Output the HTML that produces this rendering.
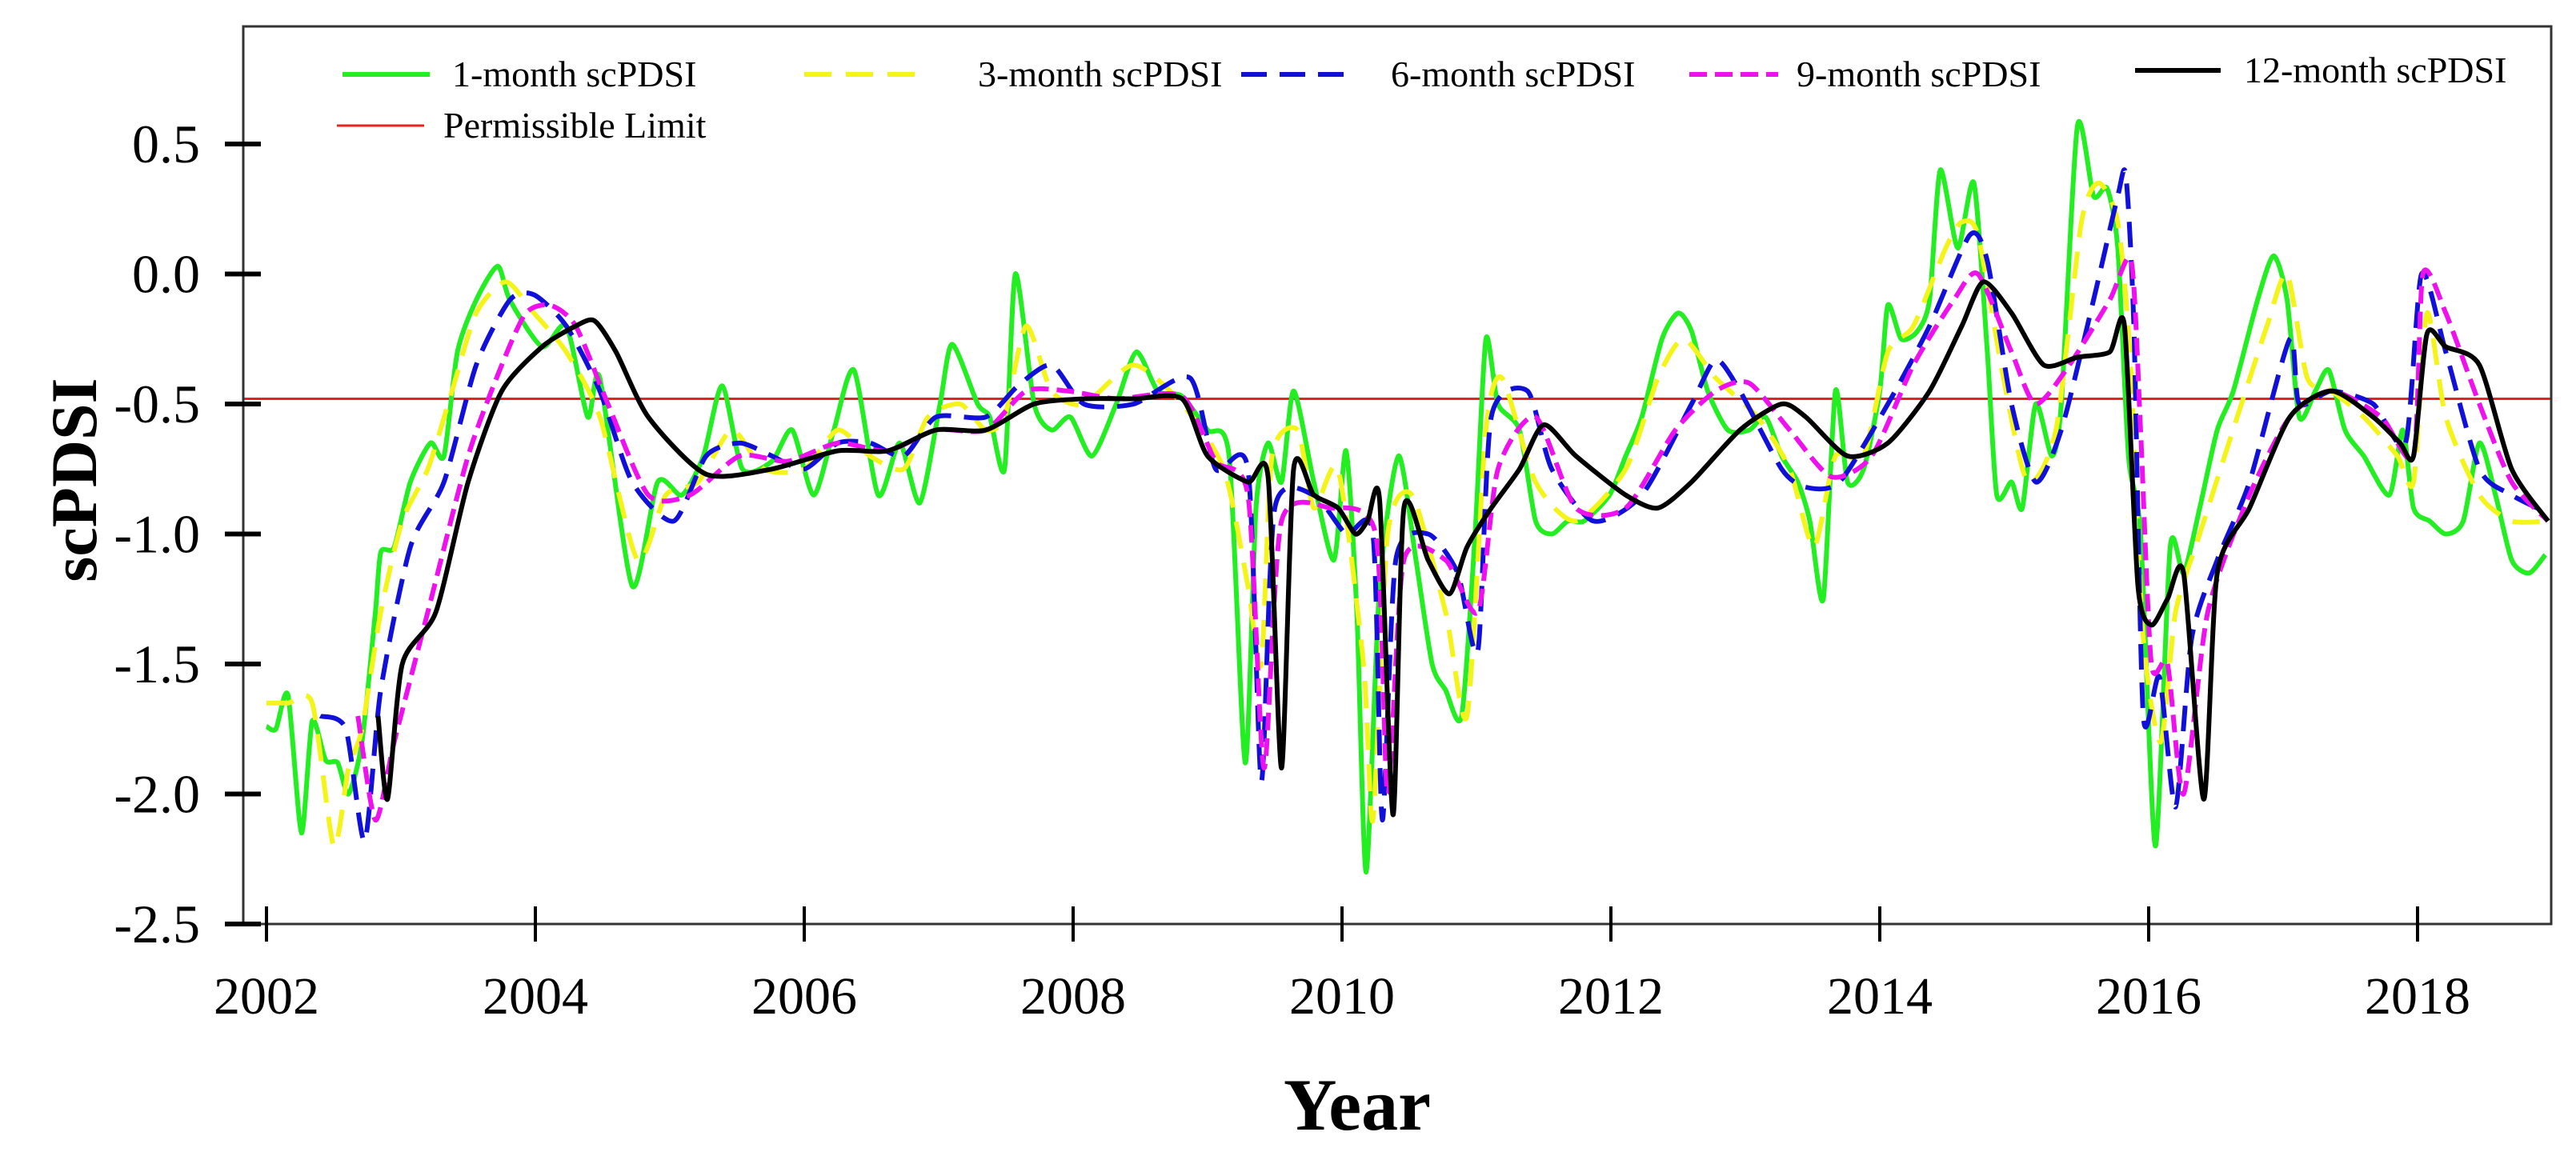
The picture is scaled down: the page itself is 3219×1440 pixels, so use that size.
<!DOCTYPE html>
<html><head><meta charset="utf-8"><title>scPDSI</title>
<style>
html,body{margin:0;padding:0;background:#fff;}
svg{display:block;font-family:"Liberation Serif","Times New Roman",serif;}
</style></head>
<body>
<svg id="chart" width="3219" height="1440" viewBox="0 0 3219 1440" xmlns="http://www.w3.org/2000/svg">
<rect x="0" y="0" width="3219" height="1440" fill="#fff"/>
<g id="series"></g>
<g id="axes"></g>
<g id="legend">
  <line x1="428" y1="93" x2="537" y2="93" stroke="#22ee22" stroke-width="6"/>
  <text x="565" y="108" font-size="46">1-month scPDSI</text>
  <line x1="1005" y1="93" x2="1153" y2="93" stroke="#f4f41a" stroke-width="6" stroke-dasharray="34,18"/>
  <text x="1222" y="108" font-size="46">3-month scPDSI</text>
  <line x1="1551" y1="93" x2="1687" y2="93" stroke="#1010d8" stroke-width="6" stroke-dasharray="32,16"/>
  <text x="1738" y="108" font-size="46">6-month scPDSI</text>
  <line x1="2111" y1="93" x2="2222" y2="93" stroke="#ee11ee" stroke-width="6" stroke-dasharray="22,10"/>
  <text x="2245" y="108" font-size="46">9-month scPDSI</text>
  <line x1="2668" y1="88" x2="2775" y2="88" stroke="#000" stroke-width="6"/>
  <text x="2804" y="103" font-size="46">12-month scPDSI</text>
  <line x1="421" y1="157" x2="530" y2="157" stroke="#e8231e" stroke-width="3"/>
  <text x="554" y="172" font-size="46">Permissible Limit</text>
</g>
<text x="1696" y="1412" font-size="92" font-weight="bold" text-anchor="middle">Year</text>
<text x="0" y="0" font-size="82" font-weight="bold" text-anchor="middle" transform="translate(120,600) rotate(-90)">scPDSI</text>
</svg>
<script>
// time values are years since 2002
const yTicks = [0.5, 0.0, -0.5, -1.0, -1.5, -2.0, -2.5];
const yTickLabels = ["0.5", "0.0", "-0.5", "-1.0", "-1.5", "-2.0", "-2.5"];
const xTicks = [2002, 2004, 2006, 2008, 2010, 2012, 2014, 2016, 2018];
const xTickLabels = ["2002", "2004", "2006", "2008", "2010", "2012", "2014", "2016", "2018"];
const permissibleLimit = -0.48;

const t1 = [0.00,0.07,0.16,0.26,0.34,0.44,0.53,0.61,0.71,0.81,0.85,0.95,1.07,1.22,1.32,1.42,1.56,1.72,1.81,2.05,2.23,2.39,2.48,2.72,2.91,3.09,3.25,3.39,3.54,3.76,3.91,4.07,4.22,4.37,4.55,4.71,4.86,5.01,5.10,5.29,5.38,5.49,5.57,5.71,5.84,5.98,6.14,6.32,6.47,6.63,6.81,7.00,7.16,7.28,7.36,7.45,7.55,7.64,7.79,7.94,8.03,8.11,8.18,8.28,8.42,8.55,8.67,8.77,8.89,8.99,9.07,9.16,9.32,9.44,9.56,9.68,9.80,9.99,10.11,10.23,10.38,10.50,10.60,10.72,10.87,11.03,11.15,11.27,11.39,11.48,11.58,11.67,11.76,11.88,12.00,12.06,12.16,12.28,12.37,12.45,12.58,12.70,12.80,12.87,12.98,13.06,13.16,13.28,13.35,13.47,13.59,13.69,13.77,13.85,13.94,14.05,14.16,14.26,14.38,14.51,14.63,14.81,14.93,15.03,15.12,15.24,15.34,15.46,15.60,15.79,15.89,15.97,16.09,16.21,16.34,16.46,16.58,16.70,16.83,16.95];
const v1 = [-1.74,-1.75,-1.62,-2.15,-1.72,-1.87,-1.88,-2.0,-1.8,-1.3,-1.07,-1.05,-0.8,-0.65,-0.7,-0.3,-0.1,0.03,-0.1,-0.28,-0.2,-0.55,-0.4,-1.2,-0.8,-0.85,-0.7,-0.43,-0.75,-0.72,-0.6,-0.85,-0.6,-0.37,-0.85,-0.65,-0.88,-0.5,-0.27,-0.5,-0.55,-0.75,0.0,-0.5,-0.6,-0.55,-0.7,-0.5,-0.3,-0.45,-0.47,-0.6,-0.7,-1.88,-0.9,-0.65,-0.8,-0.45,-0.8,-1.1,-0.68,-1.3,-2.3,-1.2,-0.7,-1.1,-1.5,-1.6,-1.7,-1.0,-0.25,-0.5,-0.6,-0.95,-1.0,-0.95,-0.95,-0.85,-0.7,-0.55,-0.25,-0.15,-0.22,-0.45,-0.6,-0.6,-0.55,-0.7,-0.8,-0.95,-1.25,-0.45,-0.8,-0.75,-0.45,-0.12,-0.25,-0.22,-0.1,0.4,0.1,0.35,-0.3,-0.85,-0.8,-0.9,-0.5,-0.7,-0.5,0.57,0.3,0.33,0.1,-0.7,-1.0,-2.2,-1.05,-1.15,-0.9,-0.6,-0.45,-0.1,0.07,-0.1,-0.55,-0.45,-0.37,-0.6,-0.7,-0.85,-0.6,-0.9,-0.95,-1.0,-0.95,-0.65,-0.85,-1.1,-1.15,-1.08];

const t3 = [0.00,0.16,0.34,0.50,0.61,0.71,0.85,1.01,1.20,1.38,1.56,1.78,1.99,2.23,2.48,2.76,2.97,3.21,3.46,3.70,4.00,4.25,4.49,4.74,4.92,5.16,5.35,5.49,5.65,5.84,6.08,6.45,6.81,7.12,7.30,7.40,7.48,7.67,7.79,7.97,8.16,8.23,8.34,8.52,8.77,8.93,9.07,9.19,9.44,9.74,10.11,10.35,10.54,10.78,11.09,11.33,11.51,11.67,11.88,12.06,12.25,12.49,12.61,12.73,12.92,13.10,13.31,13.50,13.63,13.77,13.86,13.96,14.09,14.20,14.38,14.69,14.88,15.03,15.18,15.36,15.60,15.85,15.97,16.07,16.21,16.46,16.70,16.95];
const v3 = [-1.65,-1.65,-1.65,-2.2,-1.9,-1.75,-1.3,-0.95,-0.75,-0.45,-0.15,-0.03,-0.15,-0.3,-0.55,-1.1,-0.85,-0.8,-0.6,-0.75,-0.75,-0.6,-0.7,-0.75,-0.55,-0.5,-0.6,-0.55,-0.2,-0.45,-0.5,-0.35,-0.5,-0.75,-1.2,-1.5,-0.7,-0.6,-0.9,-0.75,-1.5,-2.1,-1.0,-0.85,-1.3,-1.7,-0.6,-0.4,-0.8,-0.95,-0.75,-0.4,-0.25,-0.4,-0.55,-0.75,-1.05,-0.7,-0.7,-0.3,-0.2,0.1,0.2,0.15,-0.4,-0.8,-0.6,0.2,0.35,0.2,-0.3,-1.4,-1.8,-1.3,-1.0,-0.5,-0.2,0.0,-0.4,-0.45,-0.55,-0.7,-0.8,-0.15,-0.55,-0.85,-0.95,-0.95];

const t6 = [0.40,0.59,0.73,0.85,1.07,1.32,1.56,1.81,1.99,2.23,2.48,2.72,3.03,3.27,3.52,3.76,4.00,4.25,4.49,4.74,4.98,5.35,5.59,5.84,6.08,6.45,6.87,7.06,7.30,7.40,7.50,7.79,8.03,8.23,8.30,8.40,8.64,8.86,9.01,9.11,9.38,9.56,9.87,10.23,10.60,10.78,10.96,11.27,11.45,11.70,12.06,12.37,12.67,12.80,12.98,13.16,13.35,13.59,13.77,13.83,13.89,13.96,14.08,14.20,14.32,14.51,14.75,15.05,15.12,15.36,15.67,15.91,16.03,16.21,16.46,16.70,16.97];
const v6 = [-1.7,-1.75,-2.18,-1.6,-1.05,-0.8,-0.35,-0.1,-0.08,-0.2,-0.45,-0.8,-0.95,-0.7,-0.65,-0.7,-0.75,-0.65,-0.65,-0.7,-0.55,-0.55,-0.43,-0.35,-0.5,-0.5,-0.4,-0.75,-0.75,-1.95,-0.9,-0.85,-1.0,-1.0,-2.1,-1.1,-1.0,-1.15,-1.45,-0.55,-0.45,-0.75,-0.95,-0.85,-0.5,-0.33,-0.45,-0.75,-0.82,-0.8,-0.5,-0.2,0.15,0.05,-0.5,-0.8,-0.6,-0.1,0.3,0.38,-0.2,-1.7,-1.55,-2.05,-1.4,-1.1,-0.8,-0.25,-0.5,-0.45,-0.5,-0.65,0.0,-0.3,-0.75,-0.85,-0.92];

const t9 = [0.68,0.81,0.95,1.20,1.50,1.75,1.93,2.11,2.30,2.54,2.84,3.15,3.52,3.88,4.25,4.62,4.98,5.35,5.65,5.96,6.32,6.81,7.06,7.30,7.42,7.55,7.91,8.25,8.34,8.46,8.77,9.01,9.16,9.44,9.74,10.11,10.48,10.78,11.03,11.33,11.64,11.94,12.25,12.55,12.73,12.98,13.16,13.41,13.71,13.87,13.94,14.02,14.14,14.26,14.44,14.75,15.05,15.36,15.73,15.97,16.04,16.21,16.46,16.70,16.97];
const v9 = [-1.7,-2.1,-1.8,-1.3,-0.7,-0.35,-0.15,-0.12,-0.2,-0.5,-0.85,-0.85,-0.7,-0.72,-0.65,-0.68,-0.6,-0.6,-0.45,-0.45,-0.48,-0.47,-0.72,-0.85,-1.9,-0.95,-0.9,-1.0,-2.0,-1.1,-1.1,-1.3,-0.75,-0.55,-0.9,-0.9,-0.6,-0.45,-0.42,-0.6,-0.78,-0.7,-0.35,-0.1,0.0,-0.3,-0.5,-0.35,-0.1,0.05,-0.6,-1.5,-1.5,-2.0,-1.3,-0.85,-0.55,-0.45,-0.55,-0.7,0.0,-0.15,-0.5,-0.8,-0.95];

const t12 = [0.83,0.90,1.01,1.26,1.50,1.75,2.05,2.30,2.44,2.60,2.84,3.27,3.76,4.25,4.62,4.98,5.35,5.71,6.08,6.45,6.81,7.00,7.30,7.45,7.55,7.64,7.79,7.97,8.10,8.19,8.28,8.38,8.46,8.64,8.80,8.93,9.11,9.32,9.50,9.74,10.11,10.35,10.60,10.96,11.27,11.45,11.76,12.06,12.37,12.61,12.77,12.98,13.22,13.47,13.71,13.82,13.92,14.02,14.14,14.26,14.41,14.51,14.75,15.05,15.36,15.67,15.87,15.97,16.07,16.21,16.46,16.70,16.97];
const v12 = [-1.7,-2.02,-1.5,-1.3,-0.8,-0.45,-0.28,-0.2,-0.18,-0.3,-0.55,-0.77,-0.75,-0.68,-0.68,-0.6,-0.6,-0.5,-0.48,-0.48,-0.48,-0.7,-0.8,-0.78,-1.9,-0.75,-0.85,-0.9,-1.0,-0.95,-0.87,-2.08,-0.9,-1.1,-1.23,-1.05,-0.9,-0.75,-0.58,-0.7,-0.85,-0.9,-0.8,-0.6,-0.5,-0.55,-0.7,-0.65,-0.45,-0.2,-0.03,-0.15,-0.35,-0.32,-0.3,-0.2,-1.2,-1.35,-1.25,-1.15,-2.02,-1.15,-0.9,-0.55,-0.45,-0.55,-0.65,-0.7,-0.23,-0.28,-0.35,-0.75,-0.95];

const NS = "http://www.w3.org/2000/svg";
const PL = 304, PR = 3188, PT = 33, PB = 1155;
function xScale(year) { return 333 + (year - 2002) * 168; }
function xOff(t) { return xScale(2002 + t); }
function yScale(v) { return 342.5 - v * 325; }

const seriesG = document.getElementById('series');
const axesG = document.getElementById('axes');

function mk(tag, attrs, parent) {
  const e = document.createElementNS(NS, tag);
  for (const k in attrs) e.setAttribute(k, attrs[k]);
  parent.appendChild(e);
  return e;
}

function drawSeries(ts, vs, name, color, dash) {
  const P = ts.map((t, i) => [xOff(t), yScale(vs[i])]);
  let d = "M" + P[0][0].toFixed(1) + "," + P[0][1].toFixed(1);
  const k = 0.12;
  for (let i = 0; i < P.length - 1; i++) {
    const p0 = P[Math.max(0, i - 1)], p1 = P[i], p2 = P[i + 1], p3 = P[Math.min(P.length - 1, i + 2)];
    const c1x = p1[0] + (p2[0] - p0[0]) * k, c1y = p1[1] + (p2[1] - p0[1]) * k;
    const c2x = p2[0] - (p3[0] - p1[0]) * k, c2y = p2[1] - (p3[1] - p1[1]) * k;
    d += "C" + c1x.toFixed(1) + "," + c1y.toFixed(1) + " " + c2x.toFixed(1) + "," + c2y.toFixed(1) + " " + p2[0].toFixed(1) + "," + p2[1].toFixed(1);
  }
  const p = mk('path', {d: d, fill: 'none', stroke: color, 'stroke-width': 6, 'stroke-linejoin': 'round', 'stroke-linecap': 'butt'}, seriesG);
  if (dash) p.setAttribute('stroke-dasharray', dash);
  
  
}

// red limit line
const lim = mk('line', {x1: PL, x2: PR, y1: yScale(permissibleLimit), y2: yScale(permissibleLimit), stroke: '#e8231e', 'stroke-width': 3}, seriesG);



drawSeries(t1, v1, 'series-1-month', '#22ee22', null);
drawSeries(t3, v3, 'series-3-month', '#f4f41a', '34,18');
drawSeries(t6, v6, 'series-6-month', '#1010d8', '32,16');
drawSeries(t9, v9, 'series-9-month', '#ee11ee', '22,10');
drawSeries(t12, v12, 'series-12-month', '#000000', null);

// frame
const fr = mk('rect', {x: PL, y: PT, width: PR - PL, height: PB - PT, fill: 'none', stroke: '#333', 'stroke-width': 3}, axesG);



for (let i = 0; i < yTicks.length; i++) {
  const y = yScale(yTicks[i]);
  const tk = mk('line', {x1: 281, x2: 326, y1: y, y2: y, stroke: '#000', 'stroke-width': 6}, axesG);
  
  
  const tx = mk('text', {x: 250, y: y + 23, 'font-size': 68, 'text-anchor': 'end'}, axesG);
  tx.textContent = yTickLabels[i];
  
  
}
for (let i = 0; i < xTicks.length; i++) {
  const x = xScale(xTicks[i]);
  const tk = mk('line', {x1: x, x2: x, y1: 1133, y2: 1177, stroke: '#000', 'stroke-width': 4}, axesG);
  
  
  const tx = mk('text', {x: x, y: 1267, 'font-size': 66, 'text-anchor': 'middle'}, axesG);
  tx.textContent = xTickLabels[i];
  
  
}
</script>
</body></html>
